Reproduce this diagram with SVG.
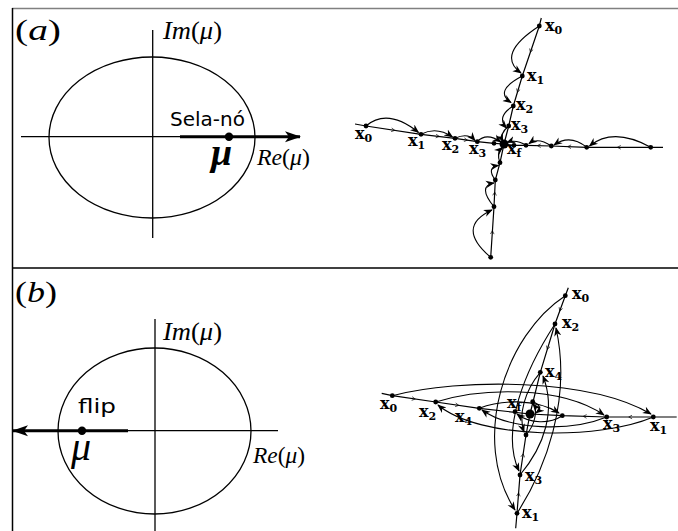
<svg xmlns="http://www.w3.org/2000/svg" width="678" height="531" viewBox="0 0 678 531">
<style>
.ln{fill:none;stroke:#000;stroke-width:1.2}
.ax{fill:none;stroke:#000;stroke-width:1.3}
.arc{fill:none;stroke:#000;stroke-width:1.1;marker-end:url(#ah)}
.tk{fill:none;stroke:#000;stroke-width:0.1;marker-end:url(#ch)}
.math{font-family:"Liberation Serif",serif;font-style:italic;fill:#000}
.paren{font-style:normal}
.lab{font-family:"DejaVu Serif",serif;font-weight:bold;font-size:16px;fill:#000}
.sub{font-size:11px}
.sans{font-family:"DejaVu Sans",sans-serif;font-size:20px;fill:#000}
</style>
<defs>
<marker id="ah" viewBox="0 0 10 10" refX="9" refY="5" markerWidth="9" markerHeight="9" markerUnits="userSpaceOnUse" orient="auto"><path d="M0,1 L10,5 L0,9 L3,5 z" fill="#000"/></marker>
<marker id="ch" viewBox="0 0 6 6" refX="3" refY="3" markerWidth="5" markerHeight="5" markerUnits="userSpaceOnUse" orient="auto"><path d="M0.5,0.8 L4.5,3 L0.5,5.2" fill="none" stroke="#000" stroke-width="0.8"/></marker>
<marker id="big" viewBox="0 0 16 12" refX="15" refY="6" markerWidth="16" markerHeight="12" markerUnits="userSpaceOnUse" orient="auto"><path d="M0,0.5 L16,6 L0,11.5 L4,6 z" fill="#000"/></marker>
</defs>

<g id="frame">
<line x1="12" y1="8.5" x2="678" y2="8.5" stroke="#808080" stroke-width="1.5"/>
<line x1="12.5" y1="8" x2="12.5" y2="531" stroke="#000" stroke-width="1.5"/>
<line x1="12" y1="268" x2="678" y2="268" stroke="#000" stroke-width="1.5"/>
</g>

<g id="panel-a-plane">
<text class="math" x="15" y="40" font-size="29" textLength="46" lengthAdjust="spacingAndGlyphs"><tspan class="paren">(</tspan>a<tspan class="paren">)</tspan></text>
<ellipse class="ax" cx="152" cy="137.5" rx="103" ry="80.5"/>
<line class="ax" x1="21" y1="136.7" x2="185" y2="136.7"/>
<line class="ax" x1="152.7" y1="30" x2="152.7" y2="238"/>
<text class="math" x="163" y="39" font-size="25" textLength="59" lengthAdjust="spacingAndGlyphs">Im<tspan class="paren">(</tspan>μ<tspan class="paren">)</tspan></text>
<line x1="180" y1="136.7" x2="300" y2="136.7" stroke="#000" stroke-width="3" marker-end="url(#big)"/>
<circle cx="229" cy="136.7" r="4.2"/>
<text class="sans" x="170" y="126">Sela-nó</text>
<text class="math" x="211" y="165" font-size="38" font-weight="bold">μ</text>
<text class="math" x="257" y="165" font-size="23" textLength="53" lengthAdjust="spacingAndGlyphs">Re<tspan class="paren">(</tspan>μ<tspan class="paren">)</tspan></text>
</g>

<g id="panel-b-plane">
<text class="math" x="15" y="302" font-size="29" textLength="42" lengthAdjust="spacingAndGlyphs"><tspan class="paren">(</tspan>b<tspan class="paren">)</tspan></text>
<ellipse class="ax" cx="154.5" cy="431" rx="96.5" ry="83"/>
<line class="ax" x1="20" y1="430.7" x2="278" y2="430.7"/>
<line class="ax" x1="155" y1="319" x2="155" y2="531"/>
<text class="math" x="163" y="340" font-size="25" textLength="59" lengthAdjust="spacingAndGlyphs">Im<tspan class="paren">(</tspan>μ<tspan class="paren">)</tspan></text>
<line x1="128" y1="430.7" x2="13" y2="430.7" stroke="#000" stroke-width="3" marker-end="url(#big)"/>
<circle cx="82" cy="430.7" r="4.2"/>
<text class="sans" x="78" y="413" textLength="38" lengthAdjust="spacingAndGlyphs">flip</text>
<text class="math" x="71" y="460" font-size="40">μ</text>
<text class="math" x="253" y="463" font-size="23" textLength="52" lengthAdjust="spacingAndGlyphs">Re<tspan class="paren">(</tspan>μ<tspan class="paren">)</tspan></text>
</g>

<g id="connectors">
<path class="ln" d="M541.3,18 L539.3,26 L522.3,76 L513.3,106 L508.7,126 L504,144"/>
<path class="ln" d="M355,124 L366,126 L421,134.3 L455,138.3 L477.3,141.7 L494,143.3 L504,144"/>
<path class="ln" d="M663,147.3 L650.7,147.3 L586.7,147.3 L551.3,146 L526,145.3 L514,145.3 L504,144"/>
<path class="ln" d="M490.7,257.3 L494,206.7 L495.3,180 L500,162.7 L504,144"/>
<path class="tk" d="M531.1,50 L530.8,51"/>
<path class="tk" d="M518.1,90 L517.8,91"/>
<path class="tk" d="M392.5,130 L393.5,130.15"/>
<path class="tk" d="M437,136.18 L438,136.3"/>
<path class="tk" d="M465.2,139.85 L466.2,140"/>
<path class="tk" d="M619.7,147.3 L618.7,147.3"/>
<path class="tk" d="M570,146.69 L569,146.65"/>
<path class="tk" d="M539.65,145.68 L538.65,145.65"/>
<path class="tk" d="M492.3,233 L492.35,232"/>
<path class="tk" d="M494.6,194.35 L494.65,193.35"/>
<path class="arc" d="M539.3,26 Q495.4,54.5 521,73"/>
<path class="arc" d="M522.3,76 Q493.5,91 511,102.5"/>
<path class="arc" d="M513.3,106 Q496,116.5 506.5,128"/>
<path class="arc" d="M508.7,126 Q499,134 503,141.5"/>
<path class="arc" d="M366,126 Q387.5,107.6 418.5,132.5"/>
<path class="arc" d="M421,134.3 Q436.4,126 452.5,137"/>
<path class="arc" d="M455,138.3 Q467.8,132.3 475,140.5"/>
<path class="arc" d="M477.3,141.7 Q486.3,132 501,142"/>
<path class="arc" d="M650.7,147.3 Q613.5,126.7 589.5,146"/>
<path class="arc" d="M586.7,147.3 Q570,133.8 554,145"/>
<path class="arc" d="M551.3,146 Q538,137 529,143.5"/>
<path class="arc" d="M526,145.3 Q516,139 507,142.5"/>
<path class="arc" d="M490.7,257.3 Q455,227 492,210"/>
<path class="arc" d="M494,206.7 Q477,186 494,183"/>
<path class="arc" d="M495.3,180 Q486,167.5 498.5,165.5"/>
<path class="arc" d="M500,162.7 Q496,153 502.5,147.5"/>

<path class="ln" d="M568.3,287.7 L565.3,295.7 L555,324 L540.3,372.3 L530,414"/>
<path class="ln" d="M515.7,528.3 L517,513.3 L520,475 L526,435 L530,414"/>
<path class="ln" d="M381.7,393.3 L392.3,395.7 L435.7,402 L479.3,408.3 L530,414"/>
<path class="ln" d="M676.7,417 L653.3,417 L606.7,417 L562.3,415.7 L530,414"/>
<path class="tk" d="M560.5,308.9 L560.15,309.85"/>
<path class="tk" d="M547.95,347.2 L547.65,348.15"/>
<path class="tk" d="M518.42,495.15 L518.5,494.15"/>
<path class="tk" d="M522.85,456 L523,455"/>
<path class="tk" d="M413,398.7 L414,398.85"/>
<path class="tk" d="M456.5,405 L457.5,405.15"/>
<path class="tk" d="M631,417 L630,417"/>
<path class="tk" d="M585.5,416.38 L584.5,416.35"/>
<path class="arc" d="M565.3,295.7 C505,335 470,440 515,510"/>
<path class="arc" d="M517,513.3 C545,470 572,400 556,328"/>
<path class="arc" d="M555,324 C525,370 500,430 519,471"/>
<path class="arc" d="M520,475 C545,445 556,410 543,376"/>
<path class="arc" d="M540.3,372.3 C525,390 518,415 524,432"/>
<path class="arc" d="M526,435 C535,425 538,410 533,404"/>
<path class="arc" d="M392.3,395.7 C460,378 590,378 651,414"/>
<path class="arc" d="M435.7,402 C480,388 560,385 604,415"/>
<path class="arc" d="M653.3,417 C600,440 480,440 438,405"/>
<path class="arc" d="M606.7,417 C570,432 510,430 482,410"/>
<path class="arc" d="M479.3,408.3 C500,400 535,398 559,413"/>
<path class="arc" d="M562.3,415.7 C550,424 530,424 517,414"/>
<path class="arc" d="M532.7,401.7 C540,404 541,409 536,413"/>
</g>

<g id="nodes-a">
<g fill="#000">
<circle cx="539.3" cy="26" r="2.4"/><circle cx="522.3" cy="76" r="2.4"/><circle cx="513.3" cy="106" r="2.4"/><circle cx="508.7" cy="126" r="2.4"/>
<circle cx="366" cy="126" r="2.4"/><circle cx="421" cy="134.3" r="2.4"/><circle cx="455" cy="138.3" r="2.4"/><circle cx="477.3" cy="141.7" r="2.4"/><circle cx="494" cy="143.3" r="2.4"/>
<circle cx="514" cy="145.3" r="2.4"/><circle cx="526" cy="145.3" r="2.4"/><circle cx="551.3" cy="146" r="2.4"/><circle cx="586.7" cy="147.3" r="2.4"/><circle cx="650.7" cy="147.3" r="2.4"/>
<circle cx="500" cy="162.7" r="2.4"/><circle cx="495.3" cy="180" r="2.4"/><circle cx="494" cy="206.7" r="2.4"/><circle cx="490.7" cy="257.3" r="2.4"/>
<circle cx="504" cy="144" r="4.5"/>
</g>
<text class="lab" x="545" y="31">x<tspan class="sub" dy="3">0</tspan></text>
<text class="lab" x="527" y="81">x<tspan class="sub" dy="3">1</tspan></text>
<text class="lab" x="516" y="110">x<tspan class="sub" dy="3">2</tspan></text>
<text class="lab" x="511" y="130">x<tspan class="sub" dy="3">3</tspan></text>
<text class="lab" x="355" y="139">x<tspan class="sub" dy="3">0</tspan></text>
<text class="lab" x="408" y="146">x<tspan class="sub" dy="3">1</tspan></text>
<text class="lab" x="442" y="150">x<tspan class="sub" dy="3">2</tspan></text>
<text class="lab" x="469" y="154">x<tspan class="sub" dy="3">3</tspan></text>
<text class="lab" x="507" y="154">x<tspan class="sub" dy="3">f</tspan></text>
</g>

<g id="nodes-b">
<g fill="#000">
<circle cx="565.3" cy="295.7" r="2.4"/><circle cx="555" cy="324" r="2.4"/><circle cx="540.3" cy="372.3" r="2.4"/><circle cx="526" cy="435" r="2.4"/><circle cx="520" cy="475" r="2.4"/><circle cx="517" cy="513.3" r="2.4"/>
<circle cx="392.3" cy="395.7" r="2.4"/><circle cx="435.7" cy="402" r="2.4"/><circle cx="479.3" cy="408.3" r="2.4"/><circle cx="562.3" cy="415.7" r="2.4"/><circle cx="606.7" cy="417" r="2.4"/><circle cx="653.3" cy="417" r="2.4"/>
<circle cx="515" cy="411.7" r="2.4"/><circle cx="532.7" cy="401.7" r="2.4"/>
<circle cx="530" cy="414" r="4.5"/>
</g>
<text class="lab" x="572" y="299">x<tspan class="sub" dy="3">0</tspan></text>
<text class="lab" x="562" y="328">x<tspan class="sub" dy="3">2</tspan></text>
<text class="lab" x="545" y="377">x<tspan class="sub" dy="3">4</tspan></text>
<text class="lab" x="507" y="408">x<tspan class="sub" dy="3">f</tspan></text>
<text class="lab" x="525" y="481">x<tspan class="sub" dy="3">3</tspan></text>
<text class="lab" x="522" y="518">x<tspan class="sub" dy="3">1</tspan></text>
<text class="lab" x="380" y="409">x<tspan class="sub" dy="3">0</tspan></text>
<text class="lab" x="419" y="417">x<tspan class="sub" dy="3">2</tspan></text>
<text class="lab" x="455" y="422">x<tspan class="sub" dy="3">4</tspan></text>
<text class="lab" x="603" y="429">x<tspan class="sub" dy="3">3</tspan></text>
<text class="lab" x="650" y="431">x<tspan class="sub" dy="3">1</tspan></text>
</g>
</svg>
